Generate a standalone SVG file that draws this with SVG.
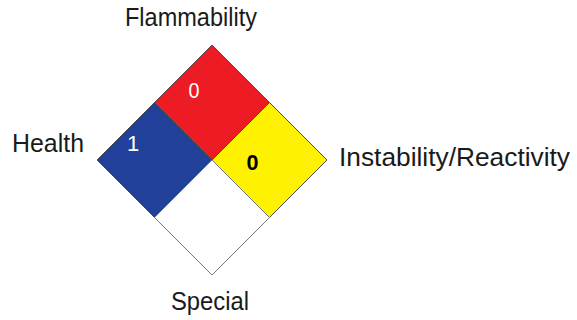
<svg xmlns="http://www.w3.org/2000/svg" width="577" height="320" viewBox="0 0 577 320">
<style>
.q{stroke:#4a4a4a;stroke-width:1;stroke-linejoin:miter}
.lbl{font-family:"Liberation Sans",Arial,sans-serif;font-size:25px;fill:#1a1a1a}
.num{font-family:"Liberation Sans",Arial,sans-serif;font-size:22px;text-anchor:middle}
</style>
<rect width="577" height="320" fill="#ffffff"/>
<g id="flammability">
<polygon class="q" points="212,45 269.5,102.5 212,160 154.5,102.5" fill="#ED1C24"/>
<text class="num" x="194" y="98" fill="#ffffff" textLength="11" lengthAdjust="spacingAndGlyphs">0</text>
</g>
<g id="health">
<polygon class="q" points="154.5,102.5 212,160 154.5,217.5 97,160" fill="#21409A"/>
<text class="num" x="133" y="151" fill="#ffffff">1</text>
</g>
<g id="instability">
<polygon class="q" points="269.5,102.5 327,160 269.5,217.5 212,160" fill="#FFF200"/>
<text class="num" x="252.5" y="170" fill="#000000" style="font-weight:bold" textLength="12" lengthAdjust="spacingAndGlyphs">0</text>
</g>
<g id="special">
<polygon points="212,160 269.5,217.5 212,275 154.5,217.5" fill="#ffffff" stroke="#777777" stroke-width="1"/>
</g>
<g id="labels">
<text class="lbl" x="125" y="26" textLength="132" lengthAdjust="spacingAndGlyphs">Flammability</text>
<text class="lbl" x="12" y="152" textLength="72" lengthAdjust="spacingAndGlyphs" style="font-size:26px">Health</text>
<text class="lbl" x="339" y="166" textLength="231" lengthAdjust="spacingAndGlyphs">Instability/Reactivity</text>
<text class="lbl" x="171" y="310" textLength="78" lengthAdjust="spacingAndGlyphs">Special</text>
</g>
</svg>
